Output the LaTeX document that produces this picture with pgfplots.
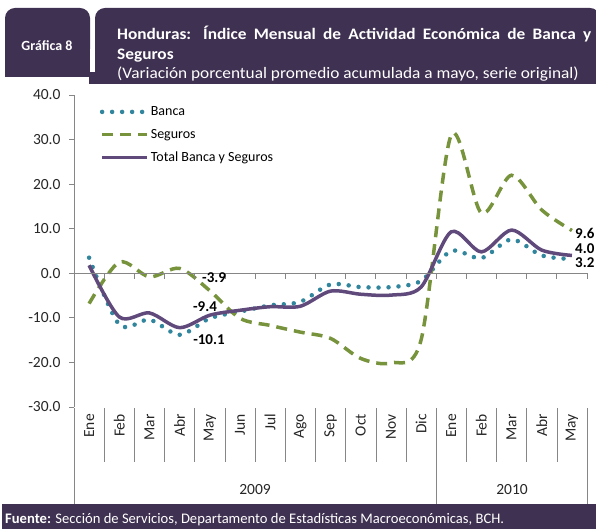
\documentclass[border=0pt]{standalone}
\usepackage{fontspec}
\setmainfont{Carlito}
\usepackage{pgfplots}
\pgfplotsset{compat=1.18}
\definecolor{hdr}{HTML}{3F3151}
\definecolor{banca}{HTML}{31859C}
\definecolor{seguros}{HTML}{77933C}
\definecolor{total}{HTML}{604A7B}
\definecolor{axgray}{HTML}{868686}
\newcommand{\fs}[1]{\fontsize{#1bp}{#1bp}\selectfont}

\begin{document}
\begin{tikzpicture}
\path[use as bounding box] (0,0) rectangle (596bp,529bp);
% header boxes
\fill[hdr,rounded corners=10bp] (5bp,470bp) rectangle (90bp,521bp);
\fill[hdr] (5bp,452bp) rectangle (90bp,480bp);
\fill[hdr,rounded corners=10bp] (95bp,470bp) rectangle (600bp,521bp);
\fill[hdr] (95bp,445bp) rectangle (600bp,480bp);
\fill[hdr] (89bp,445bp) rectangle (96bp,457bp);
\node[text=white,font=\fs{14}\bfseries] at (47bp,483bp) {Gráfica 8};
\node[text=white,anchor=north west,inner sep=0pt,text width=474bp,align=justify,
  font={\fontsize{16bp}{19.5bp}\selectfont\addfontfeatures{FakeStretch=1.08}\hyphenpenalty=10000\tolerance=9999}]
  at (117bp,503bp) {\textbf{Honduras: Índice Mensual de Actividad Económica de Banca y Seguros}\\
  (Variación porcentual promedio acumulada a mayo, serie original)};
% footer
\fill[hdr] (2bp,0bp) rectangle (600bp,25bp);
\node[text=white,anchor=west,inner sep=0pt,font=\fs{14.6}] at (5bp,9bp)
  {\textbf{Fuente:} Sección de Servicios, Departamento de Estadísticas Macroeconómicas, BCH.};

\begin{axis}[
  at={(74bp,122bp)}, anchor=south west,
  scale only axis, width=513bp, height=312bp,
  xmin=-0.5, xmax=16.5, ymin=-30, ymax=40,
  axis x line*=bottom, axis y line*=left,
  x axis line style={draw=none},
  y axis line style={draw=axgray, line width=0.8pt},
  xtick={0,...,16},
  xticklabels={Ene,Feb,Mar,Abr,May,Jun,Jul,Ago,Sep,Oct,Nov,Dic,Ene,Feb,Mar,Abr,May},
  xticklabel style={rotate=90, anchor=east, font=\fs{15.5}, text=black!85, inner sep=2pt},
  xtick style={draw=none},
  ytick={-30,-20,...,40},
  yticklabels={-30.0,-20.0,-10.0,0.0,10.0,20.0,30.0,40.0},
  yticklabel style={font=\fs{15.5}, text=black!85, xshift=-5bp},
  ytick style={draw=axgray, line width=0.8pt},
  tick align=outside, major tick length=5bp,
  clip=false,
  legend cell align=left,
  legend style={at={(0.05,0.968)}, anchor=north west, draw=none, fill=none,
    font=\fs{14}, row sep=9bp, inner sep=0pt, nodes={inner sep=1.5bp}},
  legend image code/.code={\draw[#1] (0bp,0bp) -- (45bp,0bp);},
]
\addplot[banca, line width=4.5bp, line cap=round, dash pattern=on 0bp off 10bp, smooth, tension=0.5]
  coordinates {(0,3.5)(1,-11.5)(2,-10.4)(3,-13.8)(4,-10.1)(5,-8.6)(6,-7.2)(7,-6.4)(8,-2.5)
  (9,-3.1)(10,-3.1)(11,-1.7)(12,5.0)(13,3.4)(14,7.6)(15,4.0)(16,3.2)};
\addlegendentry{Banca}
\addplot[seguros, line width=3.5bp, dash pattern=on 11bp off 7bp, smooth, tension=0.5]
  coordinates {(0,-6.8)(1,2.5)(2,-0.8)(3,1.1)(4,-3.9)(5,-10.1)(6,-11.7)(7,-13.2)(8,-14.6)
  (9,-19.1)(10,-20.1)(11,-15.0)(12,31.0)(13,13.5)(14,22.0)(15,14.2)(16,9.6)};
\addlegendentry{Seguros}
\addplot[total, line width=3.5bp, smooth, tension=0.5]
  coordinates {(0,1.8)(1,-9.8)(2,-8.9)(3,-12.2)(4,-9.4)(5,-8.3)(6,-7.5)(7,-7.4)(8,-4.0)
  (9,-4.7)(10,-4.9)(11,-3.1)(12,9.3)(13,4.8)(14,9.7)(15,5.2)(16,4.0)};
\addlegendentry{Total Banca y Seguros}
\end{axis}

% horizontal zero line with category ticks (y=0 sits at 255.7bp)
\draw[axgray, line width=0.8pt] (74bp,255.7bp) -- (587bp,255.7bp);
\foreach \k in {1,...,17}
  \draw[axgray, line width=0.8pt] (74bp+\k*30.18bp,255.7bp) -- ++(0,-6bp);

% data labels
\begin{scope}[every node/.style={font=\fs{15}\bfseries, text=black, inner sep=0pt}]
\node[anchor=west] at (202bp,251bp) {-3.9};
\node at (205bp,222bp) {-9.4};
\node at (209bp,189bp) {-10.1};
\node[anchor=west] at (575bp,296bp) {9.6};
\node[anchor=west] at (575bp,280bp) {4.0};
\node[anchor=west] at (575bp,266bp) {3.2};
\end{scope}

% category separators
\foreach \k in {1,...,11,13,14,15,16}
  \draw[axgray, line width=0.6pt] (74bp+\k*30.18bp,121bp) -- (74bp+\k*30.18bp,67bp);
\foreach \k in {0,12,17}
  \draw[axgray, line width=0.6pt] (74bp+\k*30.18bp,121bp) -- (74bp+\k*30.18bp,25bp);
\node[font=\fs{15.5}, text=black!85] at (255bp,39bp) {2009};
\node[font=\fs{15.5}, text=black!85] at (512bp,39bp) {2010};
\end{tikzpicture}
\end{document}
